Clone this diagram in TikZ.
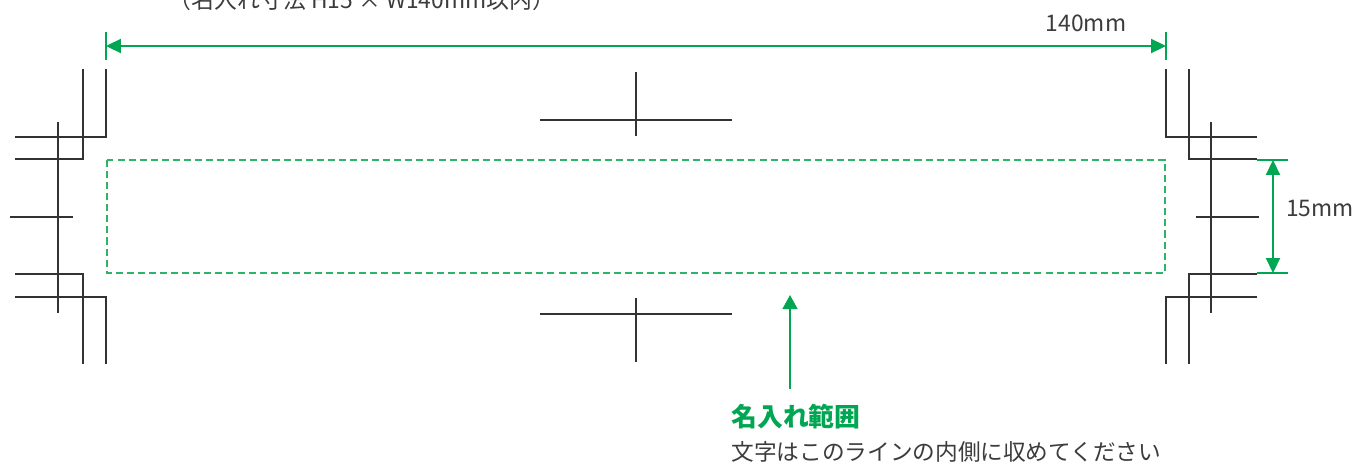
\documentclass[tikz,border=0pt]{standalone}
\usepackage{fontspec}
\setmainfont{Noto Sans CJK JP}
\usetikzlibrary{arrows.meta}
\definecolor{nagreen}{RGB}{0,166,81}
\definecolor{nagreenlt}{RGB}{45,180,105}
\definecolor{ink}{RGB}{60,60,60}
\begin{document}
\begin{tikzpicture}[x=0.02cm,y=-0.02cm,
    crop/.style={line width=0.6pt,black!80},
    area/.style={nagreenlt,line width=0.9pt,dash pattern=on 4pt off 2.3pt},
    ext/.style={nagreen,line width=0.9pt},
    dim/.style={nagreen,line width=1pt,{Triangle[length=8.5pt,width=8pt]}-{Triangle[length=8.5pt,width=8pt]}},
    up/.style={nagreen,line width=1pt,-{Triangle[length=8pt,width=8.5pt]}},
    lab/.style={text=ink,font=\fontsize{13pt}{15pt}\selectfont,inner sep=0pt}]
  \useasboundingbox (0,0) rectangle (1357,466);
  % cut-off heading
  \node[lab] (cap) at (362,0) {（名入れ寸法 H15 × W140mm以内）};
  % crop marks, left
  \draw[crop] (106,69) -- (106,137) -- (15,137);
  \draw[crop] (83,69) -- (83,159) -- (15,159);
  \draw[crop] (58,122) -- (58,313);
  \draw[crop] (10,217) -- (73,217);
  \draw[crop] (15,274) -- (83,274) -- (83,364);
  \draw[crop] (15,297) -- (106,297) -- (106,364);
  % crop marks, right
  \draw[crop] (1166,69) -- (1166,137) -- (1257,137);
  \draw[crop] (1189,69) -- (1189,159) -- (1257,159);
  \draw[crop] (1211,122) -- (1211,313);
  \draw[crop] (1196,217) -- (1259,217);
  \draw[crop] (1257,274) -- (1189,274) -- (1189,364);
  \draw[crop] (1257,297) -- (1166,297) -- (1166,364);
  % crop marks, middle
  \draw[crop] (540,120) -- (732,120);
  \draw[crop] (636,72) -- (636,136);
  \draw[crop] (540,314) -- (732,314);
  \draw[crop] (636,298) -- (636,362);
  % name area
  \coordinate (tl) at (107,160);
  \coordinate (br) at (1165,273);
  \draw[area] (tl) rectangle (br);
  % width
  \coordinate (wl) at (106,46);
  \coordinate (wr) at (1166,46);
  \draw[ext] (106,32) -- (106,60);
  \draw[ext] (1166,32) -- (1166,60);
  \draw[dim] (wl) -- (wr);
  \node[lab] (wlab) at (1086,23) {140mm};
  % height
  \coordinate (ht) at (1273,160);
  \coordinate (hb) at (1273,273);
  \draw[ext] (1257,160) -- (1288,160);
  \draw[ext] (1257,273) -- (1288,273);
  \draw[dim] (ht) -- (hb);
  \node[lab,anchor=east] (hlab) at (1354,209) {15mm};
  % pointer
  \coordinate (tip) at (790,295);
  \coordinate (foot) at (790,389);
  \draw[up] (foot) -- (tip);
  \node[lab,anchor=west,text=nagreen,font=\fontsize{14.7pt}{16pt}\selectfont\bfseries] (title) at (731,417) {名入れ範囲};
  \node[lab,anchor=west,font=\fontsize{12.9pt}{15pt}\selectfont] (note) at (731,452) {文字はこのラインの内側に収めてください};
\end{tikzpicture}
\end{document}
